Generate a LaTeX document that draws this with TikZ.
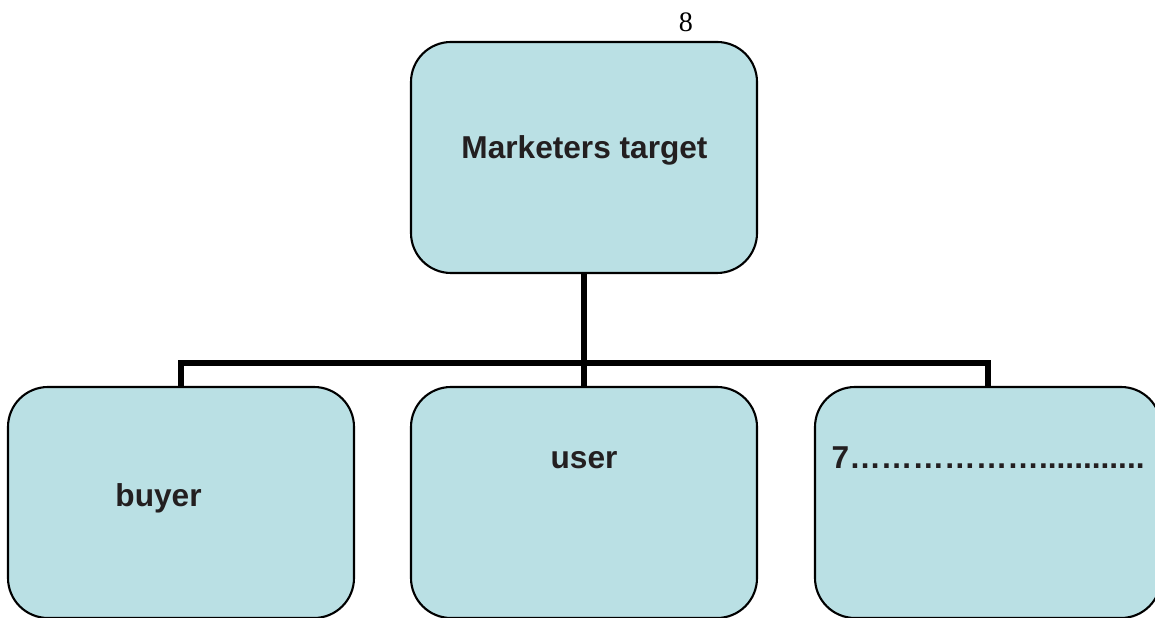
\documentclass[tikz,border=0pt]{standalone}
\usepackage{fontspec}
\setmainfont{Liberation Sans}
\newfontfamily\numfont{Liberation Serif}
\usepackage{tikz}
\usetikzlibrary{positioning}

\definecolor{boxfill}{RGB}{186,224,228}
\definecolor{inktext}{RGB}{35,31,32}

\begin{document}
\begin{tikzpicture}
        \tikzstyle{box} = [draw, line width=0.6pt, fill=boxfill, rectangle, rounded corners=0.4cm, minimum width=3.46cm, minimum height=2.31cm, inner sep=0pt]
        \tikzstyle{word} = [font=\fontsize{9}{11}\selectfont\bfseries, text=inktext, inner sep=0pt]
        \tikzstyle{link} = [line width=1.45pt]

        \useasboundingbox (0,0) rectangle (11.55,6.18);

        % Numero de pagina
        \node[font=\numfont\fontsize{8}{10}\selectfont, inner sep=0pt](pagenum) at (6.86, 5.96) {8};

        % Caja superior
        \node[box](target) at (5.84, 4.605) {};

        % Cajas inferiores
        \begin{scope}
            \clip (0,-0.1) rectangle (11.55,6.18);
            \node[box](buyer) at (1.81, 1.155) {};
            \node[box](user) at (5.84, 1.155) {};
            \node[box](other) at (9.88, 1.155) {};
        \end{scope}

        % Enlaces
        \coordinate (split) at (5.84, 2.55);
        \draw[link] (target.south) -- (split);
        \draw[link] (split) -| (buyer.north);
        \draw[link] (split) -- (user.north);
        \draw[link] (split) -| (other.north);

        % Textos de las cajas
        \node[word, anchor=base](targettext) at (5.845, 4.59) {Marketers target};
        \node[word, anchor=base](buyertext) at (1.585, 1.11) {buyer};
        \node[word, anchor=base](usertext) at (5.84, 1.49) {user};
        \node[word, anchor=base west](othertext) at (8.31, 1.49) {7………………............};
\end{tikzpicture}
\end{document}
